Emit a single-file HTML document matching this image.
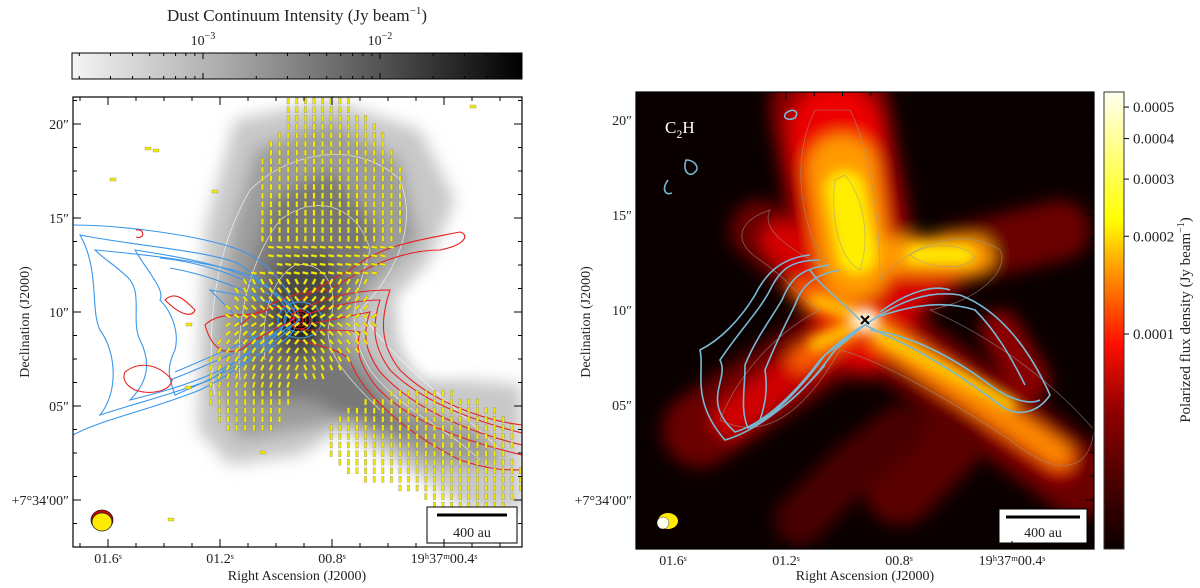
<!DOCTYPE html>
<html><head><meta charset="utf-8">
<style>
html,body{margin:0;padding:0;background:#fff;}
body{width:1200px;height:588px;overflow:hidden;position:relative;font-family:"Liberation Serif",serif;}
svg{position:absolute;left:0;top:0;}
text{font-family:"Liberation Serif",serif;fill:#222;}
</style></head>
<body>
<svg id="fig" width="1200" height="588" viewBox="0 0 1200 588">
<defs>
<linearGradient id="gcb" x1="0" x2="1" y1="0" y2="0">
<stop offset="0" stop-color="#f4f4f4"/><stop offset="0.35" stop-color="#a8a8a8"/><stop offset="0.7" stop-color="#505050"/><stop offset="1" stop-color="#000"/>
</linearGradient>
<linearGradient id="hot" x1="0" x2="0" y1="1" y2="0">
<stop offset="0" stop-color="#0b0000"/><stop offset="0.3" stop-color="#900000"/><stop offset="0.45" stop-color="#ff1000"/><stop offset="0.6" stop-color="#ff9000"/><stop offset="0.72" stop-color="#ffff00"/><stop offset="1" stop-color="#fffff0"/>
</linearGradient>
<filter id="b6" x="-50%" y="-50%" width="200%" height="200%"><feGaussianBlur stdDeviation="6"/></filter>
<filter id="b10" x="-50%" y="-50%" width="200%" height="200%"><feGaussianBlur stdDeviation="8"/></filter>
<filter id="b4" x="-50%" y="-50%" width="200%" height="200%"><feGaussianBlur stdDeviation="4"/></filter>
<clipPath id="cl"><rect x="73" y="97" width="449" height="450"/></clipPath>
<clipPath id="cr"><rect x="636" y="92" width="458" height="457"/></clipPath>
</defs>

<text x="297" y="21" font-size="17" text-anchor="middle">Dust Continuum Intensity (Jy beam<tspan dy="-7" font-size="11">−1</tspan><tspan dy="7">)</tspan></text>
<rect x="72" y="53" width="450" height="26" fill="url(#gcb)" stroke="#000"/>
<g id="cbticks"></g>
<text x="203" y="45" font-size="14" text-anchor="middle">10<tspan dy="-6" font-size="10">−3</tspan></text>
<text x="380" y="45" font-size="14" text-anchor="middle">10<tspan dy="-6" font-size="10">−2</tspan></text>

<g clip-path="url(#cl)">
<rect x="73" y="97" width="449" height="450" fill="#fff"/>
<g filter="url(#b10)">
<path d="M235,120 L330,100 L420,130 L455,200 L430,260 L395,300 L420,375 L522,385 L522,510 L470,510 L400,465 L340,430 L300,455 L230,465 L198,430 L200,330 L205,230 Z" fill="#c8c8c8"/>
<path d="M255,150 L330,120 L400,160 L420,240 L370,290 L350,330 L400,400 L480,430 L505,465 L430,465 L350,420 L300,430 L240,440 L215,390 L220,300 L235,220 Z" fill="#9c9c9c"/>
<path d="M270,200 L330,170 L380,230 L350,300 L330,340 L400,420 L440,440 L370,430 L310,400 L250,400 L240,330 L255,260 Z" fill="#777"/>
<path d="M280,260 L330,250 L340,300 L320,350 L290,360 L265,320 Z" fill="#4a4a4a"/>
</g>
<ellipse cx="440" cy="330" rx="40" ry="45" fill="#fff" filter="url(#b10)"/>
<ellipse cx="300" cy="322" rx="16" ry="14" fill="#111" filter="url(#b4)"/>
<g fill="none" stroke="#fff" stroke-opacity="0.7" stroke-width="0.8">
<path d="M215,395 C205,330 215,250 250,190 C290,150 360,140 400,180 C420,230 390,280 360,310 C390,360 450,400 500,450"/>
<path d="M240,380 C235,320 250,260 280,220 C320,190 360,210 370,250 C360,290 340,320 370,370 C400,410 450,430 480,460"/>
<path d="M265,360 C260,320 270,280 295,265 C325,260 340,290 330,320 C320,350 350,380 380,410"/>
</g>
<g id="blue" fill="none" stroke="#3a96ea" stroke-width="1.1">
<path d="M73,225 C120,225 200,235 240,250 C270,262 290,290 300,318 C280,340 240,370 200,390 C150,410 100,420 73,435"/>
<path d="M80,235 C130,245 200,250 235,262 C260,275 280,300 295,318 C270,335 240,360 210,380 C170,395 130,405 100,415 C120,390 115,350 100,330 C90,310 100,270 80,235 Z"/>
<path d="M95,250 C150,255 210,262 250,275 C275,290 290,305 300,320 C275,335 250,355 220,370 C190,385 150,395 130,400 C150,380 150,360 140,340 C130,320 145,290 125,275 C115,265 105,260 95,250 Z"/>
<path d="M135,250 C200,260 250,270 285,300 C300,312 302,325 285,340 C250,360 210,380 175,395 C170,380 165,370 175,350 C180,330 170,310 160,300 C165,290 150,275 135,250 Z"/>
<path d="M210,290 C240,295 270,300 285,310 C290,320 280,335 265,345 C250,340 240,320 230,310 Z"/>
<path d="M160,258 C200,262 240,275 270,295"/><path d="M170,268 C210,275 245,290 275,305"/>
<path d="M170,380 C210,365 250,345 285,330"/><path d="M175,372 C215,355 250,340 282,325"/>
<ellipse cx="300" cy="320" rx="22" ry="18"/><ellipse cx="298" cy="320" rx="14" ry="12"/>
</g>
<g id="red" fill="none" stroke="#e82020" stroke-width="1.1">
<path d="M240,325 C270,300 300,290 330,290 C360,270 400,250 440,250 C465,245 470,235 460,232 C420,240 380,245 350,270 C330,280 315,290 300,300"/>
<path d="M300,310 C330,295 360,290 390,290 C380,320 380,345 400,370 C430,400 480,420 522,425"/>
<path d="M305,315 C335,305 360,300 380,300 C372,325 372,345 390,370 C420,400 470,420 522,433"/>
<path d="M305,325 C330,320 355,315 370,312 C362,335 365,350 380,372 C410,405 460,430 522,445"/>
<path d="M300,330 C330,330 350,330 360,332 C355,350 360,365 375,385 C405,420 460,440 522,455"/>
<path d="M296,340 C320,345 340,350 350,360 C360,390 400,430 460,460 C490,470 505,470 522,470"/>
<path d="M205,325 C220,310 245,318 262,312 C290,300 300,310 290,322 C270,330 255,340 240,350 C225,355 212,350 205,325 Z"/>
<path d="M165,300 C175,290 185,300 195,310 C192,318 180,315 165,300 Z"/>
<path d="M125,372 C140,360 160,365 172,380 C170,392 150,395 135,390 C125,385 122,378 125,372 Z"/>
<ellipse cx="300" cy="320" rx="10" ry="9"/><ellipse cx="300" cy="320" rx="6" ry="6"/><ellipse cx="300" cy="320" rx="3" ry="3"/>
<path d="M136,230 C145,228 145,240 136,237"/>
</g>
<g id="vecs"></g>
<ellipse cx="102" cy="520" rx="11" ry="10" fill="#c00" stroke="#222" stroke-width="0.8"/>
<ellipse cx="102" cy="522" rx="10" ry="9" fill="#ffea00" stroke="#222" stroke-width="0.8"/>
<rect x="427" y="507" width="90" height="36" fill="#fff" stroke="#000"/>
<line x1="437" y1="515" x2="507" y2="515" stroke="#000" stroke-width="3"/>
<text x="472" y="537" font-size="14" text-anchor="middle">400 au</text>
</g>
<rect x="73" y="97" width="449" height="450" fill="none" stroke="#000" stroke-width="1.2"/>
<g id="axL"></g>
<text x="297" y="580" font-size="14" text-anchor="middle">Right Ascension (J2000)</text>
<text transform="translate(29,322) rotate(-90)" font-size="14" text-anchor="middle">Declination (J2000)</text>

<g clip-path="url(#cr)">
<rect x="636" y="92" width="458" height="457" fill="#0b0000"/>
<g filter="url(#b10)" stroke-linecap="round" fill="none">
<path d="M700,430 L865,320 L1080,480" stroke="#6a0000" stroke-width="75"/>
<path d="M760,230 L865,320 L960,255 L1060,230" stroke="#6a0000" stroke-width="60"/>
<path d="M830,110 L855,250 L865,320" stroke="#8a0000" stroke-width="120"/>
<path d="M900,490 L950,440" stroke="#5a0000" stroke-width="70"/>
<path d="M800,520 L850,470 L900,430" stroke="#4a0000" stroke-width="50"/>
<path d="M1000,330 L1030,380" stroke="#8a0000" stroke-width="40"/>
<path d="M835,130 L850,250 L865,320" stroke="#ee0000" stroke-width="90"/>
<path d="M730,420 L865,320 L1060,460" stroke="#d00000" stroke-width="36"/>
<path d="M780,240 L865,320 L960,255" stroke="#d80000" stroke-width="36"/>
<path d="M842,170 L855,265" stroke="#ff9a00" stroke-width="70"/>
<path d="M895,255 L975,255" stroke="#ff9a00" stroke-width="36"/>
<path d="M880,335 L1060,455" stroke="#ff8a00" stroke-width="24"/>
<path d="M800,290 L865,320 L800,360" stroke="#ff6000" stroke-width="22"/>
</g>
<g filter="url(#b6)" stroke-linecap="round" fill="none">
<path d="M845,190 L857,255" stroke="#ffee00" stroke-width="40"/>
<path d="M915,255 L965,255" stroke="#ffec00" stroke-width="18"/>
<path d="M880,335 L1010,405" stroke="#ffd500" stroke-width="12"/>
<path d="M815,300 L870,320 L815,345" stroke="#ffd000" stroke-width="12"/>
<circle cx="866" cy="320" r="12" fill="#fffff0" stroke="none"/>
</g>
<g fill="none" stroke="#999" stroke-opacity="0.6" stroke-width="0.8">
<path d="M815,110 C790,160 800,230 830,270 C790,250 760,230 770,210 C740,220 730,240 760,260 C790,280 800,300 820,310 C780,330 740,370 720,420 C760,440 800,420 840,350 C880,360 950,400 1010,440 C1060,480 1090,470 1094,430 C1060,390 1000,340 930,310 C980,300 1010,270 1000,250 C970,230 920,235 880,280 C880,220 870,150 850,110 Z"/>
<path d="M835,180 C830,220 840,260 860,270 C870,240 865,200 845,175 Z"/>
<path d="M910,255 C930,240 970,245 975,258 C965,270 930,270 910,255 Z"/>
</g>
<g fill="none" stroke="#78b8d4" stroke-width="1.6">
<path d="M820,260 C790,260 780,270 770,290 C760,310 740,330 720,360 C730,380 700,400 735,432 C760,425 790,400 820,360 C840,340 855,330 865,325"/>
<path d="M830,265 C800,268 790,280 782,300 C770,320 755,340 745,365 C745,390 740,410 748,428 C770,420 800,390 825,355 C845,340 858,330 865,325"/>
<path d="M810,255 C780,258 765,275 755,295 C740,320 720,340 700,350 C705,370 690,400 725,440 C760,430 800,395 825,365"/>
<path d="M840,270 C810,275 800,290 795,305 C785,325 775,345 765,370 C768,390 765,405 760,420 C785,410 810,385 835,350 C850,338 860,328 865,325"/>
<path d="M865,325 C900,300 930,290 960,295 C1000,310 1030,350 1050,395 C1040,410 1020,420 1000,405 C960,375 920,350 885,335 Z"/>
<path d="M870,330 C910,335 950,355 990,385 C1010,400 1030,405 1040,400"/>
<path d="M875,318 C910,305 945,300 975,310 C995,330 1010,355 1025,385"/>
<path d="M880,312 C910,290 935,285 950,290"/>
<path d="M860,320 C840,300 820,285 810,270"/>
<path d="M786,113 C793,107 800,112 795,118 C788,121 782,118 786,113 Z"/>
<path d="M686,160 C695,160 700,168 695,172 C690,178 682,172 686,160 Z"/>
<path d="M668,180 C662,188 664,196 672,193"/>
</g>
<path d="M861,316 L869,324 M869,316 L861,324" stroke="#000" stroke-width="2"/>
<text x="665" y="133" font-size="17" style="fill:#fff">C<tspan dy="5" font-size="12">2</tspan><tspan dy="-5">H</tspan></text>
<ellipse cx="668" cy="521" rx="10" ry="8" fill="#ffea00"/>
<circle cx="663" cy="523" r="6" fill="#fffff0" stroke="#444" stroke-width="0.5"/>
<rect x="999" y="509" width="88" height="34" fill="#fff" stroke="#000"/>
<line x1="1006" y1="517" x2="1080" y2="517" stroke="#000" stroke-width="3"/>
<text x="1043" y="537" font-size="14" text-anchor="middle">400 au</text>
</g>
<rect x="636" y="92" width="458" height="457" fill="none" stroke="#000" stroke-width="1.2"/>
<g id="axR"></g>
<text x="865" y="580" font-size="14" text-anchor="middle">Right Ascension (J2000)</text>
<text transform="translate(590,322) rotate(-90)" font-size="14" text-anchor="middle">Declination (J2000)</text>

<rect x="1104" y="92" width="20" height="457" fill="url(#hot)" stroke="#333"/>
<g id="cbR"></g>
<text transform="translate(1190,320) rotate(-90)" font-size="15" text-anchor="middle">Polarized flux density (Jy beam<tspan dy="-6" font-size="10">−1</tspan><tspan dy="6">)</tspan></text>
</svg>
<script>
const NS='http://www.w3.org/2000/svg';
const decLabels=['20″','15″','10″','05″','+7°34′00″'];
const raLabels=['01.6ˢ','01.2ˢ','00.8ˢ','19ʰ37ᵐ00.4ˢ'];
const cbRLabels=['0.0005','0.0004','0.0003','0.0002','0.0001'];
const cbRValues=[0.0005,0.0004,0.0003,0.0002,0.0001];
function mk(tag,attrs,parent,txt){const e=document.createElementNS(NS,tag);for(const k in attrs)e.setAttribute(k,attrs[k]);if(txt)e.textContent=txt;parent.appendChild(e);return e;}
function axes(gid,x0,x1,y0,y1,decY0,decStep,raX0,raStep){
 const g=document.getElementById(gid);
 for(let i=-1;i<=5;i++){for(let m=0;m<4;m++){const y=decY0+(i+m/4)*decStep; if(y<y0||y>y1)continue; const L=m==0?8:4;
  mk('line',{x1:x0,x2:x0+L,y1:y,y2:y,stroke:'#000'},g);mk('line',{x1:x1,x2:x1-L,y1:y,y2:y,stroke:'#000'},g);}}
 decLabels.forEach((t,i)=>{const e=mk('text',{x:x0-4,y:decY0+i*decStep+5,'font-size':14,'text-anchor':'end'},g,t);
  
  });
 for(let i=-1;i<=4;i++){for(let m=0;m<4;m++){const x=raX0+(i+m/4)*raStep; if(x<x0||x>x1)continue; const L=m==0?8:4;
  mk('line',{x1:x,x2:x,y1:y1,y2:y1-L,stroke:'#000'},g);mk('line',{x1:x,x2:x,y1:y0,y2:y0+L,stroke:'#000'},g);}}
 raLabels.forEach((t,i)=>{const e=mk('text',{x:raX0+i*raStep,y:y1+16,'font-size':14,'text-anchor':'middle'},g,t);
  
  });
}
axes('axL',73,522,97,547,124,94,108,112);
axes('axR',636,1094,92,549,120,95,673,113);
(function(){const g=document.getElementById('cbticks');const d=177,x3=203;
 for(let dec=-4;dec<=-1;dec++)for(let k=1;k<10;k++){const x=x3+(dec+3+Math.log10(k))*d;if(x<72||x>522)continue;const L=k==1?6:3;
  mk('line',{x1:x,x2:x,y1:53,y2:53+L,stroke:'#000'},g);mk('line',{x1:x,x2:x,y1:79,y2:79-L,stroke:'#000'},g);}})();
(function(){const g=document.getElementById('cbR');
 function yv(v){return 549-(215+141*Math.log(v/0.0001));}
 cbRValues.forEach((v,i)=>{const y=yv(v);mk('line',{x1:1124,x2:1129,y1:y,y2:y,stroke:'#000'},g);
  const e=mk('text',{x:1133,y:y+5,'font-size':15},g,cbRLabels[i]);
  
  });})();
(function(){const g=document.getElementById('vecs');
 const ells=[[330,200,75,95],[300,320,75,60],[420,440,95,50],[250,380,45,55],[470,480,55,35],[320,110,35,25]];
 for(let y=101;y<545;y+=8.6)for(let x=185;x<522;x+=8.6){
  let inside=false;for(const e of ells){const dx=(x-e[0])/e[2],dy=(y-e[1])/e[3];if(dx*dx+dy*dy<1)inside=true;}
  if(!inside)continue; if(Math.hypot(x-440,y-330)<40)continue;
  const dx=x-300,dy=y-320;let ang=90;
  if(Math.abs(dy)<70&&Math.abs(dx)<130) ang=90-Math.sign(dx*dy||1)*60*Math.exp(-Math.abs(dy)/50);
  if(y>240&&y<280) ang=10;
  mk('rect',{x:x-1.2,y:y-3,width:2.4,height:6,fill:'#f4ea00',stroke:'#777','stroke-width':0.3,transform:`rotate(${ang-90} ${x} ${y})`},g);
 }
 [[145,147],[153,149],[110,178],[212,190],[186,323],[470,105],[168,518],[260,451],[185,386]].forEach(p=>mk('rect',{x:p[0],y:p[1],width:6,height:3,fill:'#f4ea00',stroke:'#777','stroke-width':0.3},g));
})();
</script>
</body></html>
